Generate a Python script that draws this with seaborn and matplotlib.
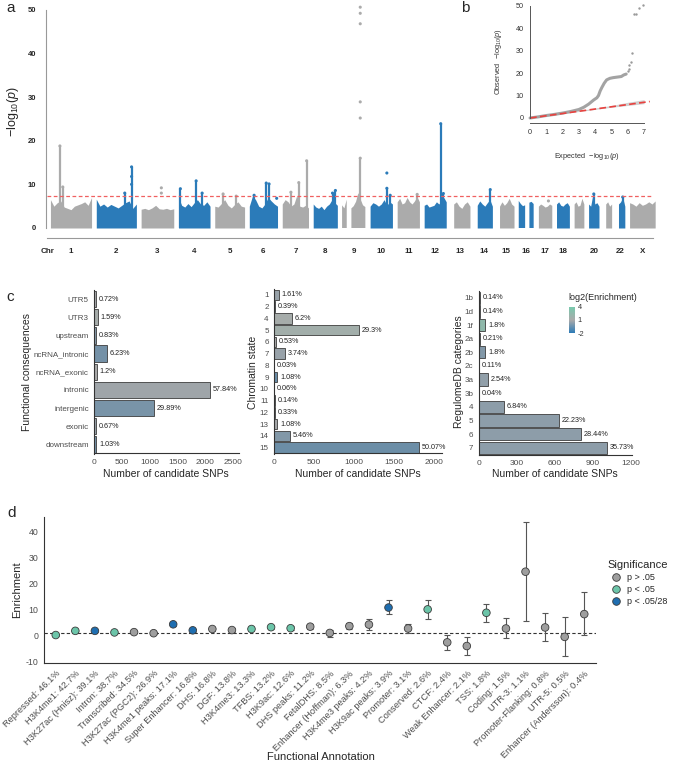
import numpy as np
import pandas as pd
import seaborn as sns
import matplotlib.pyplot as plt
from matplotlib.colors import LinearSegmentedColormap, Normalize
from matplotlib.cm import ScalarMappable

sns.set_style("white")
plt.rcParams["font.family"] = ["Liberation Sans", "DejaVu Sans"]
plt.rcParams["mathtext.fontset"] = "custom"
plt.rcParams["mathtext.rm"] = "Liberation Sans"
plt.rcParams["mathtext.it"] = "Liberation Sans:italic"
plt.rcParams["mathtext.bf"] = "Liberation Sans:bold"
plt.rcParams["axes.unicode_minus"] = False

# ---------------- data: (a) Manhattan ----------------
chrom_names = ["1", "2", "3", "4", "5", "6", "7", "8", "9", "10", "11", "12",
               "13", "14", "15", "16", "17", "18", "19", "20", "21", "22", "X"]
chrom_len_mb = [249.3, 243.2, 198.0, 191.2, 180.9, 171.1, 159.1, 146.4, 141.2, 135.5,
                135.0, 133.9, 115.2, 107.3, 102.5, 90.4, 81.2, 78.1, 59.1, 63.0, 48.1, 51.3, 155.3]
# top of the dense background band, read left to right along each chromosome
band_tops = [
    [6.5, 5.0, 5.8, 6.2, 4.8, 4.5, 4.2, 5.0, 5.3, 5.6, 6.0, 5.2, 7.0],
    [6.6, 5.0, 5.5, 4.8, 5.4, 5.0, 4.6, 5.2, 5.8, 6.2, 4.5, 5.5],
    [4.3, 4.5, 4.2, 4.6, 5.2, 4.4, 4.3, 4.5, 4.2, 4.4],
    [7.0, 5.2, 4.8, 5.6, 4.9, 5.8, 6.5, 5.5, 5.2, 6.0, 5.0],
    [5.0, 4.8, 5.6, 6.5, 5.2, 4.6, 5.4, 6.0, 5.0, 4.8],
    [5.0, 7.3, 6.5, 5.0, 4.6, 5.5, 7.0, 6.2, 5.5, 5.0],
    [5.5, 6.5, 6.0, 5.0, 5.5, 7.5, 5.0, 4.8, 5.2, 4.6],
    [5.5, 4.8, 4.5, 5.0, 4.2, 5.0, 5.5, 6.5, 5.8, 5.2],
    [5.2, 4.5, 6.5, np.nan, 4.5, 5.0, 6.0, 8.0, 6.5, 5.2, 4.8],
    [5.0, 5.8, 5.5, 5.0, 5.5, 6.5, 5.2, 6.0, 5.5],
    [6.0, 6.8, 5.5, 5.8, 7.0, 6.0, 5.5, 6.2, 7.2, 6.0],
    [5.2, 5.5, 4.8, 5.0, 5.2, 6.0, 5.5, 6.2, 7.0, 6.0],
    [np.nan, 5.5, 6.0, 5.0, 4.5, 5.5, 6.0, 5.0],
    [np.nan, 5.2, 6.2, 5.5, 5.0, 5.8, 6.5, 5.0],
    [np.nan, 5.0, 6.0, 5.2, 5.8, 6.8, 5.5, 5.0],
    [6.2, 5.5, 5.0, 5.2, np.nan, 5.8, 6.0, 5.5],
    [5.0, 5.5, 5.2, 4.8, 5.0, 5.5, 5.2],
    [5.5, 6.0, 5.2, 5.0, 5.5, 5.8, 5.0],
    [5.5, 6.0, 5.0, 5.2, 6.8, 5.5],
    [5.5, 5.0, 7.5, 5.5, 5.8, 5.0],
    [np.nan, 5.5, 6.0, 5.0, 5.5],
    [np.nan, 5.5, 6.0, 7.0, 5.0],
    [5.8, 5.5, 5.0, 5.8, 5.2, 5.5, 6.0, 5.5, 6.2],
]
peak_chr = [1, 1, 2, 2, 4, 4, 4, 5, 5, 6, 6, 6, 7, 7, 7, 8, 8, 9, 10, 10, 11, 12, 12, 14, 20, 22]
peak_frac = [0.23, 0.30, 0.88, 0.71, 0.06, 0.56, 0.75, 0.28, 0.72, 0.60, 0.70, 0.17, 0.63,
             0.93, 0.33, 0.92, 0.80, 0.78, 0.75, 0.90, 0.90, 0.75, 0.87, 0.88, 0.50, 0.75]
peak_top = [18.8, 9.4, 14.0, 8.0, 9.0, 10.8, 8.0, 7.8, 7.3, 10.3, 10.1, 7.5, 10.4,
            15.4, 8.2, 8.6, 8.0, 16.0, 9.1, 7.5, 7.7, 23.9, 7.9, 8.8, 7.8, 7.1]
dot_chr = [3, 3, 6, 9, 9, 9, 9, 9, 10, 17, 2, 2]
dot_frac = [0.62, 0.62, 0.97, 0.78, 0.78, 0.78, 0.78, 0.78, 0.75, 0.75, 0.88, 0.88]
dot_val = [9.2, 8.0, 6.8, 25.2, 28.9, 46.8, 49.2, 50.6, 12.6, 6.2, 11.8, 10.0]
gws_threshold = 7.3

# ---------------- data: (b) QQ ----------------
qq_expected = [0, 0.5, 1.0, 1.5, 2.0, 2.5, 3.0, 3.3, 3.6, 3.9, 4.1, 4.2, 4.3, 4.4, 4.55,
               4.7, 4.9, 5.1, 5.4, 5.6, 5.75, 5.9]
qq_observed = [0, 0.5, 1.1, 1.6, 2.2, 2.9, 3.8, 4.8, 6.2, 8.0, 9.0, 10.0, 12.0, 13.5, 15.5,
               17.0, 17.7, 18.0, 18.3, 18.5, 19.2, 19.6]
qq_tail_expected = [6.0, 6.05, 6.1, 6.2, 6.25, 6.4, 6.5, 6.7, 6.95]
qq_tail_observed = [21.0, 22.0, 23.5, 25.0, 29.0, 46.5, 46.5, 49.0, 50.5]
ci_expected = [0, 3, 5, 6, 7]
ci_low = [0, 2.9, 4.8, 5.6, 6.4]
ci_high = [0.1, 3.3, 5.6, 7.0, 8.2]

# ---------------- data: (c) annotation bars ----------------
func_cats = ["UTR5", "UTR3", "upstream", "ncRNA_intronic", "ncRNA_exonic",
             "intronic", "intergenic", "exonic", "downstream"]
func_counts = [26, 58, 30, 226, 43, 2094, 1082, 24, 37]
func_pct = ["0.72%", "1.59%", "0.83%", "6.23%", "1.2%", "57.84%", "29.89%", "0.67%", "1.03%"]
func_log2enr = [0.9, 1.3, 0.0, -0.5, 1.0, 0.7, -0.35, 0.5, -0.5]

chrom_states = ["1", "2", "4", "5", "6", "7", "8", "9", "10", "11", "12", "13", "14", "15"]
state_counts = [58, 14, 224, 1061, 19, 135, 1, 39, 2, 5, 12, 39, 198, 1813]
state_pct = ["1.61%", "0.39%", "6.2%", "29.3%", "0.53%", "3.74%", "0.03%", "1.08%",
             "0.06%", "0.14%", "0.33%", "1.08%", "5.46%", "50.07%"]
state_log2enr = [0.5, 0.0, 1.3, 1.6, 1.0, 0.5, 0.5, -0.8, 0.5, 0.5, 0.5, 0.9, -0.1, -0.7]

reg_cats = ["1b", "1d", "1f", "2a", "2b", "2c", "3a", "3b", "4", "5", "6", "7"]
reg_counts = [4, 4, 51, 6, 51, 3, 72, 1, 194, 631, 808, 1015]
reg_pct = ["0.14%", "0.14%", "1.8%", "0.21%", "1.8%", "0.11%", "2.54%", "0.04%",
           "6.84%", "22.23%", "28.44%", "35.73%"]
reg_log2enr = [0.5, 0.5, 3.0, 0.5, -0.1, 0.5, 0.3, 0.5, 0.2, 0.2, 0.2, 0.2]

# ---------------- data: (d) enrichment ----------------
annot_names = ["Repressed", "H3K4me1", "H3K27ac (Hnisz)", "Intron", "Transcribed",
               "H3K27ac (PGC2)", "H3K4me1 peaks", "Super Enhancer", "DHS", "DGF", "H3K4me3",
               "TFBS", "H3K9ac", "DHS peaks", "FetalDHS", "Enhancer (Hoffman)", "H3K4me3 peaks",
               "H3K9ac peaks", "Promoter", "Conserved", "CTCF", "Weak Enhancer", "TSS",
               "Coding", "UTR-3", "Promoter-Flanking", "UTR-5", "Enhancer (Andersson)"]
annot_pct = [46.1, 42.7, 39.1, 38.7, 34.5, 26.9, 17.1, 16.8, 16.8, 13.8, 13.3, 13.2, 12.6,
             11.2, 8.5, 6.3, 4.2, 3.9, 3.1, 2.6, 2.4, 2.1, 1.8, 1.5, 1.1, 0.8, 0.5, 0.4]
enrichment = [0.3, 1.9, 1.9, 1.3, 1.4, 1.0, 4.4, 2.1, 2.6, 2.2, 2.6, 3.3, 2.9, 3.5, 1.1,
              3.7, 4.3, 10.8, 2.8, 10.1, -2.5, -3.9, 8.8, 2.8, 24.5, 3.2, -0.4, 8.3]
enrich_lo = [0.0, 1.5, 1.5, 1.0, 1.0, 0.6, 3.8, 1.6, 2.0, 1.6, 2.0, 2.6, 2.2, 2.5, -0.4,
             2.6, 2.2, 8.2, 1.2, 6.6, -5.5, -7.4, 5.4, -1.0, 5.7, -1.9, -7.8, 0.3]
enrich_hi = [0.6, 2.3, 2.3, 1.6, 1.8, 1.4, 5.0, 2.6, 3.2, 2.8, 3.2, 4.0, 3.6, 4.6, 2.4,
             4.8, 6.6, 13.6, 4.5, 13.6, 0.3, -0.6, 12.1, 6.9, 43.4, 8.6, 7.3, 16.6]
significance = ["p < .05", "p < .05", "p < .05/28", "p < .05", "p > .05", "p > .05",
                "p < .05/28", "p < .05/28", "p > .05", "p > .05", "p < .05", "p < .05",
                "p < .05", "p > .05", "p > .05", "p > .05", "p > .05", "p < .05/28",
                "p > .05", "p < .05", "p > .05", "p > .05", "p < .05", "p > .05",
                "p > .05", "p > .05", "p > .05", "p > .05"]

# ---------------- figure ----------------
W, H = 685, 767
fig = plt.figure(figsize=(W / 100, H / 100), dpi=100)


def box(l, t, r, b):
    return [l / W, 1 - b / H, (r - l) / W, (b - t) / H]


def ftext(x, y, s, **kw):
    fig.text(x / W, 1 - y / H, s, **kw)


GRAY, BLUE = "#ababab", "#2b7bb9"

# ---- (a) Manhattan ----
axA = fig.add_axes(box(45.5, 5, 660, 240))
gap = 28.7
lens = np.array(chrom_len_mb)
starts = np.concatenate([[0], np.cumsum(lens[:-1] + gap)])
centers = starts + lens / 2
shade = [GRAY if i % 2 == 0 else BLUE for i in range(len(chrom_names))]

for i, tops in enumerate(band_tops):
    xs = starts[i] + np.linspace(0, lens[i], len(tops))
    axA.fill_between(xs, 0, tops, color=shade[i], lw=0)

pc = np.array(peak_chr) - 1
px = starts[pc] + np.array(peak_frac) * lens[pc]
axA.vlines(px, 0, peak_top, colors=[shade[c] for c in pc], lw=1.6)

dc = np.array(dot_chr) - 1
dots = pd.DataFrame({
    "pos": np.concatenate([px, starts[dc] + np.array(dot_frac) * lens[dc]]),
    "logp": np.concatenate([peak_top, dot_val]),
    "shade": [shade[c] for c in pc] + [shade[c] for c in dc],
})
sns.scatterplot(data=dots, x="pos", y="logp", hue="shade",
                palette={GRAY: GRAY, BLUE: BLUE}, s=5, linewidth=0, legend=False, ax=axA)
axA.hlines(gws_threshold, -18, 3655, colors="#f06060", lw=0.9, linestyles=(0, (3, 2)))

axA.set_xlim(-30, 3697)
axA.set_ylim(-2.75, 51.1)
for s in ["top", "right"]:
    axA.spines[s].set_visible(False)
axA.spines["left"].set_bounds(0, 50)
axA.spines["bottom"].set_position(("data", -2.3))
axA.spines["bottom"].set_bounds(-18, 3655)
for s in ["left", "bottom"]:
    axA.spines[s].set_color("#999999")
    axA.spines[s].set_linewidth(0.8)
xt_labels = ["Chr"] + [n if n not in ("19", "21") else "" for n in chrom_names]
axA.set_xticks([-18] + list(centers))
axA.set_xticklabels(xt_labels, fontsize=5.8, fontweight="bold")
axA.set_yticks([0, 10, 20, 30, 40, 50])
axA.set_yticklabels(["0", "10", "20", "30", "40", "50"], fontsize=5.5, fontweight="bold")
axA.tick_params(axis="both", length=3.5, width=0.6, color="#999999", pad=3)
axA.tick_params(axis="x", pad=4)
axA.set_xlabel("")
axA.set_ylabel("")
ftext(13, 112, r"$-\mathrm{log}_{10}(p)$", rotation=90, ha="center", va="center", fontsize=9)
ftext(11, 8, "a", fontsize=11, ha="center", va="center")

# ---- (b) QQ ----
axB = fig.add_axes(box(526, 2.6, 650.6, 124.7))
axB.fill_between(ci_expected, ci_low, ci_high, color="#d0d0d0", lw=0)
sns.lineplot(x=qq_expected, y=qq_observed, sort=False, color="#a3a3a3", lw=2.2, ax=axB)
sns.scatterplot(x=qq_tail_expected, y=qq_tail_observed, color="#9a9a9a", s=3, linewidth=0, ax=axB)
axB.plot([0, 7.35], [0, 7.35], color="#e8423f", lw=1.2, ls=(0, (4, 2)))
axB.set_xlim(-0.25, 7.4)
axB.set_ylim(-3, 51.5)
for s in ["top", "right"]:
    axB.spines[s].set_visible(False)
axB.spines["left"].set_position(("data", 0))
axB.spines["left"].set_bounds(0, 50)
axB.spines["bottom"].set_position(("data", -2.1))
axB.spines["bottom"].set_bounds(0, 7)
for s in ["left", "bottom"]:
    axB.spines[s].set_color("#555555")
    axB.spines[s].set_linewidth(0.7)
axB.set_xticks(range(8))
axB.set_yticks([0, 10, 20, 30, 40, 50])
axB.tick_params(axis="both", labelsize=5.2, length=2.5, width=0.5, color="#555555",
                labelcolor="#333333", pad=2)
ftext(498, 62, r"Observed  $-\mathrm{log}_{10}(p)$", rotation=90, ha="center", va="center",
      fontsize=5.3, color="#333333")
ftext(587, 156, r"Expected  $-\mathrm{log}_{10}(p)$", ha="center", va="center",
      fontsize=5.3, color="#333333")
ftext(465, 8, "b", fontsize=11, ha="center", va="center")

# ---- (c) bars ----
enr_cmap = LinearSegmentedColormap.from_list(
    "enr", [(0, "#2c7bb6"), (0.5, "#aaaaaa"), (1, "#78c9ad")])
enr_norm = Normalize(-2, 4)


def bar_panel(rect, cats, counts, pct, enr, xmax, xticks, ylabel, ylab_x, xlab_x):
    ax = fig.add_axes(rect)
    df = pd.DataFrame({"cat": cats, "n": counts})
    cols = [enr_cmap(enr_norm(v)) for v in enr]
    sns.barplot(data=df, x="n", y="cat", hue="cat", palette=cols, legend=False,
                orient="h", width=0.9, edgecolor="#3d3d3d", linewidth=0.6, ax=ax)
    for i, (n, p) in enumerate(zip(counts, pct)):
        ax.annotate(p, (n, i), xytext=(2, 0), textcoords="offset points",
                    ha="left", va="center", fontsize=5.2, color="#222222")
    ax.set_xlim(0, xmax)
    ax.set_xticks(xticks)
    ax.set_xlabel("")
    ax.set_ylabel("")
    for s in ["top", "right"]:
        ax.spines[s].set_visible(False)
    for s in ["left", "bottom"]:
        ax.spines[s].set_color("#333333")
        ax.spines[s].set_linewidth(0.8)
    ax.tick_params(axis="both", length=2.5, width=0.6, color="#333333",
                   labelcolor="#4d4d4d", pad=1.5)
    ax.tick_params(axis="y", labelsize=5.8)
    ax.tick_params(axis="x", labelsize=6)
    ftext(ylab_x, 372, ylabel, rotation=90, ha="center", va="center", fontsize=7.5)
    ftext(xlab_x, 474, "Number of candidate SNPs", ha="center", va="center", fontsize=7.5)
    return ax


bar_panel(box(94.3, 290, 239, 453.5), func_cats, func_counts, func_pct, func_log2enr,
          2610, [0, 500, 1000, 1500, 2000, 2500], "Functional consequences", 27, 166)
bar_panel(box(274.3, 289, 442, 453.5), chrom_states, state_counts, state_pct, state_log2enr,
          2100, [0, 500, 1000, 1500, 2000], "Chromatin state", 253, 358)
bar_panel(box(479, 291, 632, 454.5), reg_cats, reg_counts, reg_pct, reg_log2enr,
          1210, [0, 300, 600, 900, 1200], "RegulomeDB categories", 459, 555)
ftext(10, 297, "c", fontsize=11, ha="center", va="center")

cax = fig.add_axes(box(569, 307, 575, 333))
cb = fig.colorbar(ScalarMappable(norm=enr_norm, cmap=enr_cmap), cax=cax, ticks=[-2, 1, 4])
cb.outline.set_visible(False)
cb.ax.tick_params(labelsize=5.3, length=0, pad=2, labelcolor="#333333")
ftext(568, 298, "log2(Enrichment)", ha="left", va="center", fontsize=6.5)

# ---- (d) enrichment ----
axD = fig.add_axes(box(44, 517, 596, 663.3))
dfd = pd.DataFrame({
    "pos": np.arange(len(annot_names)),
    "Enrichment": enrichment,
    "Significance": significance,
})
axD.errorbar(dfd["pos"], enrichment,
             yerr=[np.array(enrichment) - np.array(enrich_lo),
                   np.array(enrich_hi) - np.array(enrichment)],
             fmt="none", ecolor="#555555", elinewidth=0.8, capsize=2, capthick=0.8, zorder=1)
axD.axhline(1, color="#333333", lw=0.8, ls=(0, (3, 2)), zorder=0)
sns.scatterplot(data=dfd, x="pos", y="Enrichment", hue="Significance",
                hue_order=["p > .05", "p < .05", "p < .05/28"],
                palette={"p > .05": "#9e9e9e", "p < .05": "#6cc5a9", "p < .05/28": "#1f6eb0"},
                s=30, edgecolor="#3a3a3a", linewidth=0.6, zorder=3, ax=axD)
axD.set_xlim(-0.6, 27.6)
axD.set_ylim(-10.5, 45.4)
axD.set_yticks([-10, 0, 10, 20, 30, 40])
axD.set_xticks(dfd["pos"])
axD.set_xticklabels([f"{n}: {p}%" for n, p in zip(annot_names, annot_pct)],
                    rotation=45, ha="right", rotation_mode="anchor")
axD.set_xlabel("")
axD.set_ylabel("")
for s in ["top", "right"]:
    axD.spines[s].set_visible(False)
for s in ["left", "bottom"]:
    axD.spines[s].set_color("#333333")
    axD.spines[s].set_linewidth(0.8)
axD.tick_params(axis="both", length=2.5, width=0.6, color="#333333",
                labelcolor="#4d4d4d", labelsize=6.3, pad=1.5)
axD.tick_params(axis="x", labelsize=6.7)
h, l = axD.get_legend_handles_labels()
leg = axD.legend(h, l, title="Significance", loc="upper left",
                 bbox_to_anchor=(607 / W, 1 - 560 / H), bbox_transform=fig.transFigure,
                 frameon=False, fontsize=6.5, title_fontsize=8, handletextpad=0.2,
                 labelspacing=0.35, borderaxespad=0, borderpad=0)
leg._legend_box.align = "left"
ftext(17, 590, "Enrichment", rotation=90, ha="center", va="center", fontsize=8)
ftext(321, 757, "Functional Annotation", ha="center", va="center", fontsize=8)
ftext(12, 513, "d", fontsize=11, ha="center", va="center")

fig.savefig("out.png", dpi=100)
plt.close(fig)
